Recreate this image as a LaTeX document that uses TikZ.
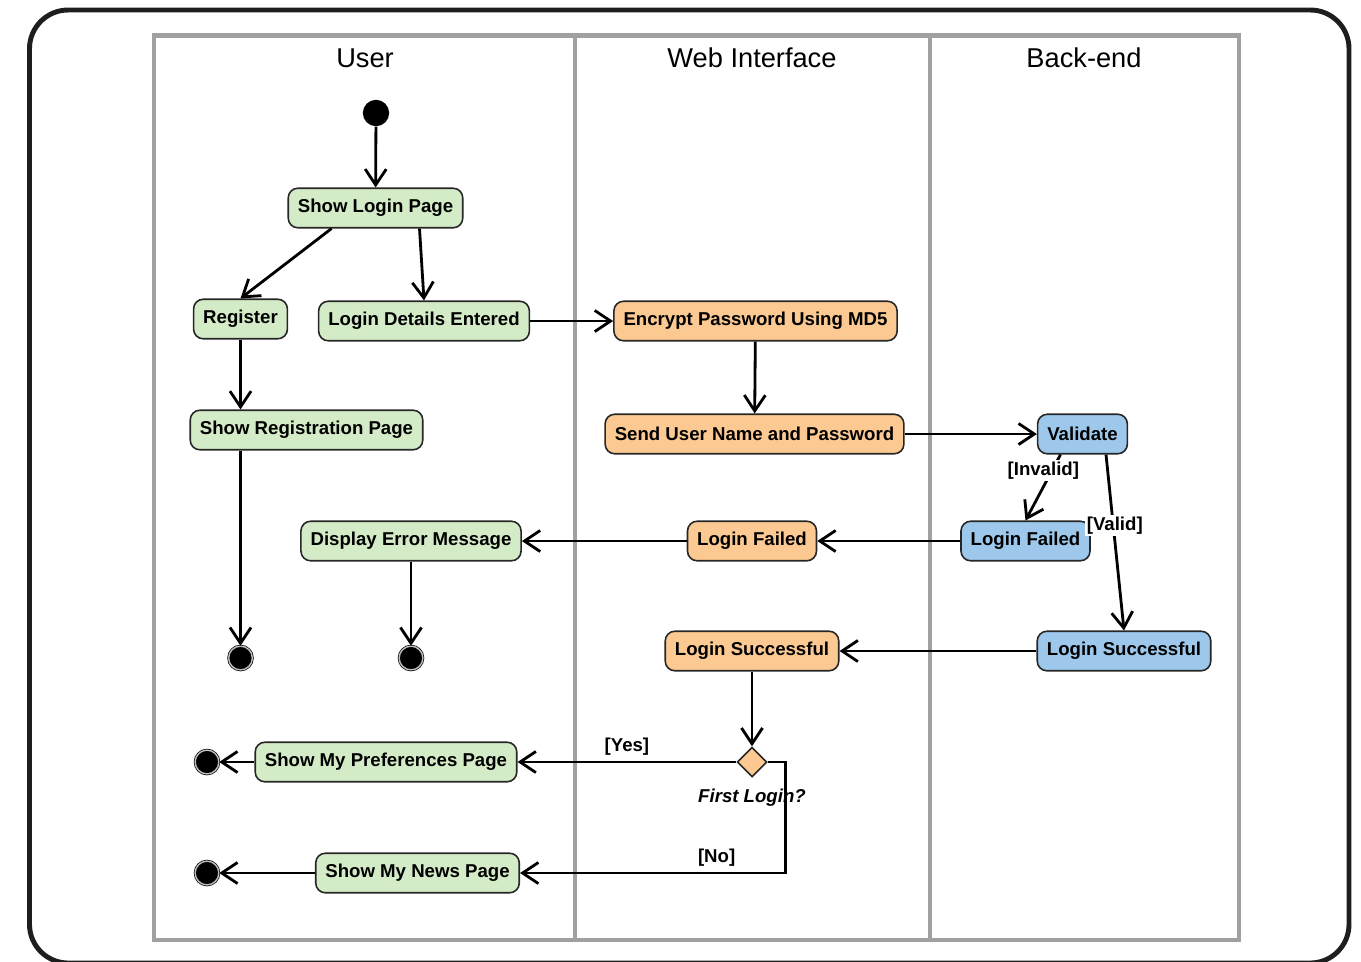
\documentclass[tikz,border=0pt]{standalone}
\usepackage{fontspec}
\setmainfont{Liberation Sans}
\usetikzlibrary{arrows.meta,shapes.geometric,calc}
\definecolor{usergreen}{RGB}{212,235,199}
\definecolor{weborange}{RGB}{252,201,146}
\definecolor{backblue}{RGB}{157,200,235}
\definecolor{lanegray}{RGB}{160,160,160}
\definecolor{framedark}{RGB}{30,30,30}
\begin{document}
\begin{tikzpicture}[x=0.02cm, y=-0.02cm,
    act/.style={draw=black!85, rounded corners=5.5pt, line width=0.9pt, inner xsep=5.5pt,
      minimum height=22.5pt, font=\bfseries\fontsize{10.6}{12}\selectfont},
    useract/.style={act, fill=usergreen},
    webact/.style={act, fill=weborange},
    backact/.style={act, fill=backblue},
    flow/.style={-{Straight Barb[length=9pt,width=12pt]}, line width=1.6pt},
    guard/.style={font=\bfseries\fontsize{10.6}{12}\selectfont, inner sep=1pt},
    startstate/.style={circle, fill=black, minimum size=15pt, inner sep=0pt},
    endstate/.style={circle, fill=black, draw=black, double=black!25, double distance=0.8pt,
      minimum size=13.5pt, inner sep=0pt},
    lanetitle/.style={font=\fontsize{15.5}{18}\selectfont}]
        \useasboundingbox (0,0) rectangle (1361,961);
        % Frame
        \draw[framedark, line width=2.8pt, rounded corners=22pt] (29.5,10) rectangle (1349,963);
        
        % Swimlanes
        \draw[lanegray, line width=2.3pt] (154,35.5) rectangle (1239,940);
        \draw[lanegray, line width=2.3pt] (575,35.5) -- (575,940);
        \draw[lanegray, line width=2.3pt] (930,35.5) -- (930,940);
        \node[lanetitle] (tuser) at (365,58) {User};
        \node[lanetitle] (tweb) at (752,58) {Web Interface};
        \node[lanetitle] (tback) at (1084,58) {Back-end};
        
        % User activities
        \node[startstate] (start) at (376,113) {};
        \node[useract] (login) at (375.5,208) {Show Login Page};
        \node[useract] (register) at (240.5,319) {Register};
        \node[useract] (details) at (424,321) {Login Details Entered};
        \node[useract] (regpage) at (306.5,430) {Show Registration Page};
        \node[useract] (error) at (411,541) {Display Error Message};
        \node[endstate] (end1) at (240.5,658) {};
        \node[endstate] (end2) at (411,658) {};
        \node[useract] (prefs) at (386,762) {Show My Preferences Page};
        \node[useract] (news) at (417.5,873) {Show My News Page};
        \node[endstate] (end3) at (207,762) {};
        \node[endstate] (end4) at (207,873) {};
        
        % Web interface activities
        \node[webact] (encrypt) at (755.5,321) {Encrypt Password Using MD5};
        \node[webact] (send) at (754.5,434) {Send User Name and Password};
        \node[webact] (wfail) at (752,541) {Login Failed};
        \node[webact] (wok) at (752,651) {Login Successful};
        \node[diamond, draw=black!85, fill=weborange, line width=0.9pt, minimum size=17pt,
          inner sep=0pt] (first) at (752,762) {};
        \node[guard, font=\bfseries\itshape\fontsize{10.6}{12}\selectfont] (firstq) at (752,798) {First Login?};
        
        % Back-end activities
        \node[backact] (validate) at (1082.5,434) {Validate};
        \node[backact] (bfail) at (1025.5,541) {Login Failed};
        \node[backact] (bok) at (1124,651) {Login Successful};
        
        % Flows
        \draw[flow] (start) -- (login);
        \draw[flow] ($(login.south)+(-44,0)$) -- (register.north);
        \draw[flow] ($(login.south)+(44,0)$) -- (details.north);
        \draw[flow] (register) -- (regpage.north -| register.south);
        \draw[flow] (regpage.south -| register.south) -- (end1);
        \draw[flow] (details) -- (encrypt);
        \draw[flow] (encrypt) -- (send);
        \draw[flow] (send) -- (validate);
        \draw[flow] ($(validate.south)+(-22,0)$) -- node[guard, fill=white, pos=0.24, xshift=-5pt] {[Invalid]} (bfail.north);
        \draw[flow] ($(validate.south)+(23.5,0)$) -- node[guard, fill=white, pos=0.39, xshift=1pt, yshift=-1.5pt] {[Valid]} (bok.north);
        \draw[flow] (bfail) -- (wfail);
        \draw[flow] (wfail) -- (error);
        \draw[flow] (error) -- (end2);
        \draw[flow] (bok) -- (wok);
        \draw[flow] (wok) -- (first);
        \draw[flow] (first) -- node[guard, above=2pt] {[Yes]} (prefs);
        \draw[flow] (first.east) -- ++(18,0) |- node[guard, pos=0.63, above=2pt] {[No]} (news);
        \draw[flow] (prefs) -- (end3);
        \draw[flow] (news) -- (end4);
    \end{tikzpicture}
\end{document}
